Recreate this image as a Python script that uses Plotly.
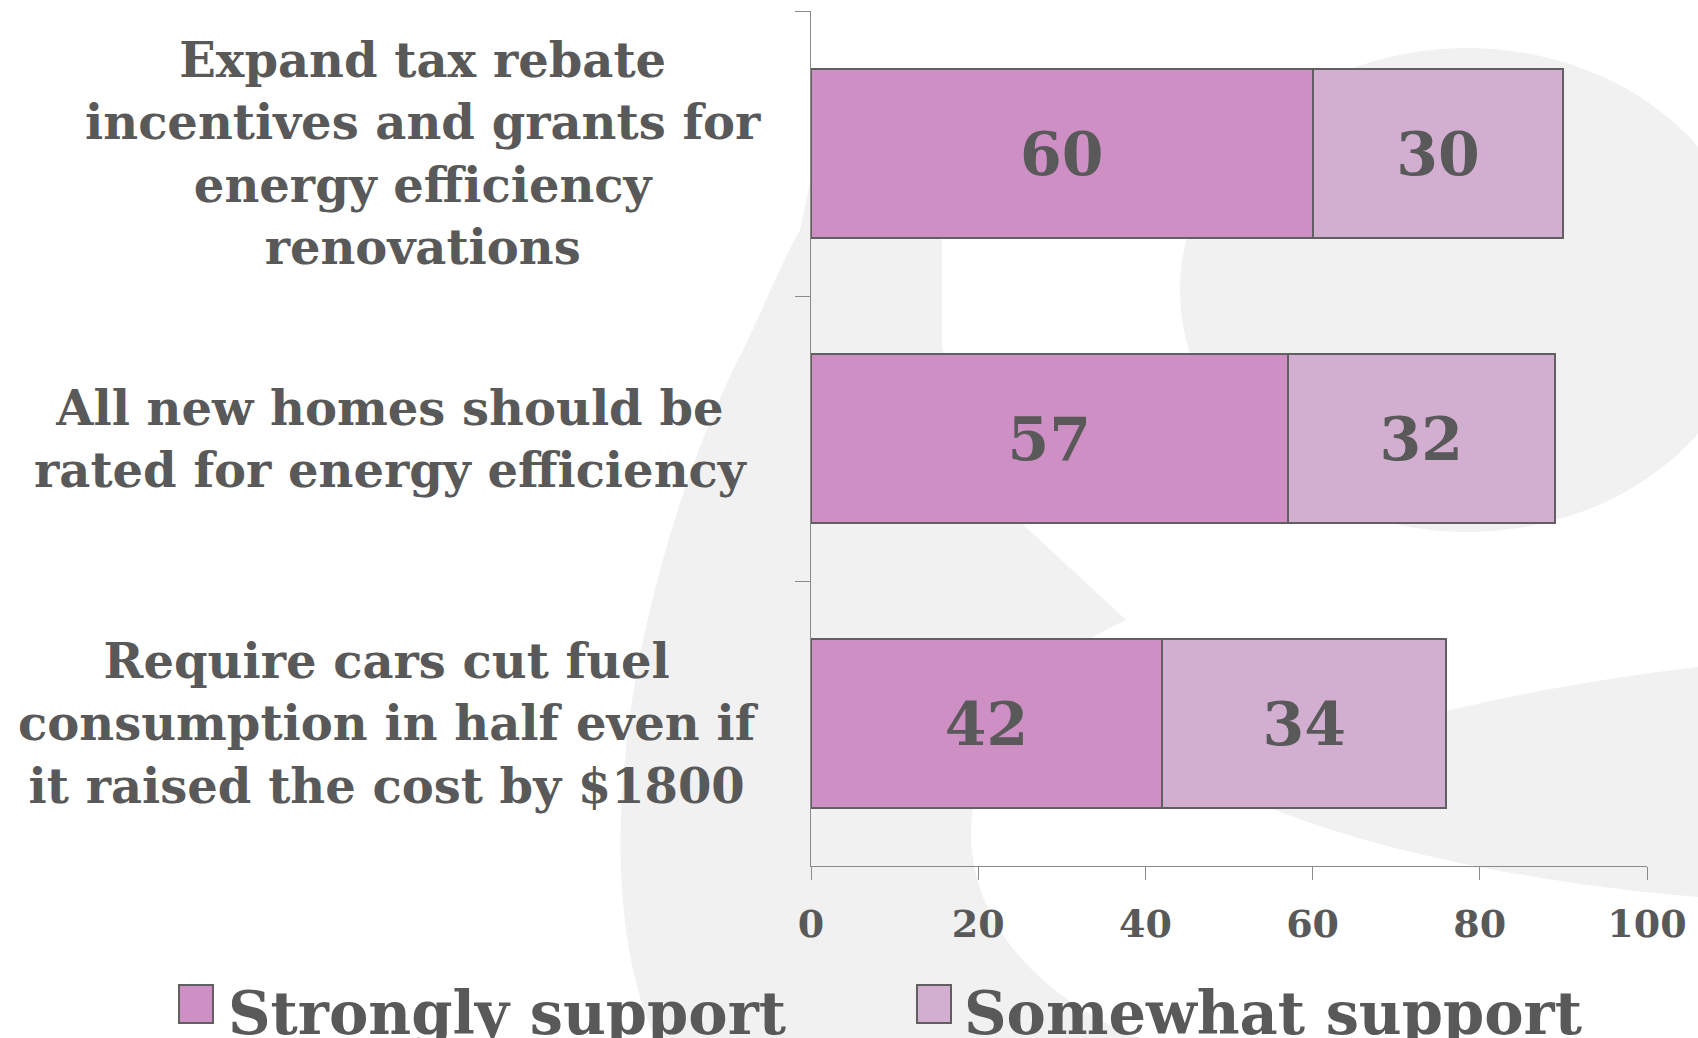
import plotly.graph_objects as go

# Survey items (category labels, line breaks as displayed)
categories = [
    "Expand tax rebate<br>incentives and grants for<br>energy efficiency<br>renovations",
    "All new homes should be<br>rated for energy efficiency",
    "Require cars cut fuel<br>consumption in half even if<br>it raised the cost by $1800",
]
strongly_support = [60, 57, 42]
somewhat_support = [30, 32, 34]
series_names = ["Strongly support", "Somewhat support"]
x_tick_values = [0, 20, 40, 60, 80, 100]

# Styling
W, H = 1698, 1038
L, R, T, B = 811, 51, 11, 172
FONT = "DejaVu Serif"
TEXT = "#595959"
COL_STRONG = "#CD8FC4"
COL_SOME = "#D2AFD0"
OUTLINE = "#606060"
AXIS = "#8a8a8a"
MARK = "#f1f1f1"


def px(x, y):
    """Pixel position on the page -> paper coordinates of the plot area."""
    return (x - L) / (W - L - R), (H - B - y) / (H - T - B)


def path(cmds):
    out = []
    for c in cmds:
        if isinstance(c, str):
            out.append(c)
        else:
            pts = [px(*p) for p in c]
            out.append(" ".join(f"{a:.4f},{b:.4f}" for a, b in pts))
    return " ".join(out)


fig = go.Figure()
for vals, name, col in [(strongly_support, series_names[0], COL_STRONG),
                        (somewhat_support, series_names[1], COL_SOME)]:
    fig.add_trace(go.Bar(
        y=categories, x=vals, name=name, orientation="h",
        marker=dict(color=col, line=dict(color=OUTLINE, width=2)),
        text=[str(v) for v in vals], textposition="inside",
        insidetextanchor="middle", textangle=0, constraintext="none",
        textfont=dict(family=FONT, size=60, color=TEXT, weight="bold"),
        hoverinfo="skip",
    ))

# faint background emblem
shapes = [
    # left sweep
    dict(type="path", xref="paper", yref="paper", layer="below", line_width=0,
         fillcolor=MARK,
         path=path(["M", [(655, 1038)],
                    "C", [(620, 960), (615, 850), (625, 760)],
                    "C", [(635, 640), (680, 470), (745, 346)],
                    "C", [(765, 305), (780, 265), (800, 230)],
                    "L", [(830, 90)], "L", [(942, 90)], "L", [(942, 346)],
                    "C", [(960, 430), (990, 500), (1040, 540)],
                    "L", [(1126, 620)],
                    "C", [(1040, 660), (980, 720), (971, 827)],
                    "C", [(968, 920), (1040, 1000), (1140, 1038)], "Z"])),
    # round head at the upper right
    dict(type="circle", xref="paper", yref="paper", layer="below",
         line_width=0, fillcolor=MARK,
         x0=px(1180, 0)[0], x1=px(1754, 0)[0],
         y0=px(0, 532)[1], y1=px(0, 48)[1]),
    # crescent at the lower right
    dict(type="path", xref="paper", yref="paper", layer="below", line_width=0,
         fillcolor=MARK,
         path=path(["M", [(1231, 790)],
                    "C", [(1300, 740), (1500, 690), (1698, 667)],
                    "L", [(1698, 897)],
                    "C", [(1550, 885), (1350, 850), (1231, 790)], "Z"])),
]

# legend swatches
legend_items = [
    (series_names[0], COL_STRONG, 179, 213, 226),
    (series_names[1], COL_SOME, 917, 951, 962),
]
annotations = []
for name, col, x0, x1, tx in legend_items:
    a0, b0 = px(x0, 1023)
    a1, b1 = px(x1, 985)
    shapes.append(dict(type="rect", xref="paper", yref="paper", x0=a0, x1=a1,
                       y0=b0, y1=b1, fillcolor=col,
                       line=dict(color=OUTLINE, width=2)))
    ax, ay = px(tx, 1013)
    annotations.append(dict(text=name, xref="paper", yref="paper", x=ax, y=ay,
                            xanchor="left", yanchor="middle", showarrow=False,
                            font=dict(family=FONT, size=59, color=TEXT,
                                      weight="bold")))

# category labels, centred blocks left of the axis
label_centres = [423, 391, 388]
for cat, cx in zip(categories, label_centres):
    annotations.append(dict(text=cat, xref="paper", yref="y", x=px(cx, 0)[0],
                            y=cat, xanchor="center", yanchor="middle",
                            align="center", showarrow=False,
                            font=dict(family=FONT, size=48, color=TEXT,
                                      weight="bold")))

fig.update_layout(
    width=W, height=H, barmode="stack", bargap=0.41,
    margin=dict(l=L, r=R, t=T, b=B, pad=0),
    paper_bgcolor="white", plot_bgcolor="rgba(0,0,0,0)",
    showlegend=False, shapes=shapes, annotations=annotations,
    xaxis=dict(range=[0, 100], tickvals=x_tick_values, showgrid=False,
               zeroline=False, showline=True, linecolor=AXIS, linewidth=1,
               ticks="outside", ticklen=13, tickcolor=AXIS, tickwidth=1,
               ticklabelstandoff=11,
               tickfont=dict(family=FONT, size=38, color=TEXT, weight="bold")),
    yaxis=dict(categoryorder="array", categoryarray=categories,
               range=[2.5, -0.5], showgrid=False, zeroline=False,
               showline=True, linecolor=AXIS, linewidth=1,
               ticks="outside", ticklen=15, tickcolor=AXIS, tickwidth=1,
               tickson="boundaries", showticklabels=False),
)

fig.write_html("out.html")
